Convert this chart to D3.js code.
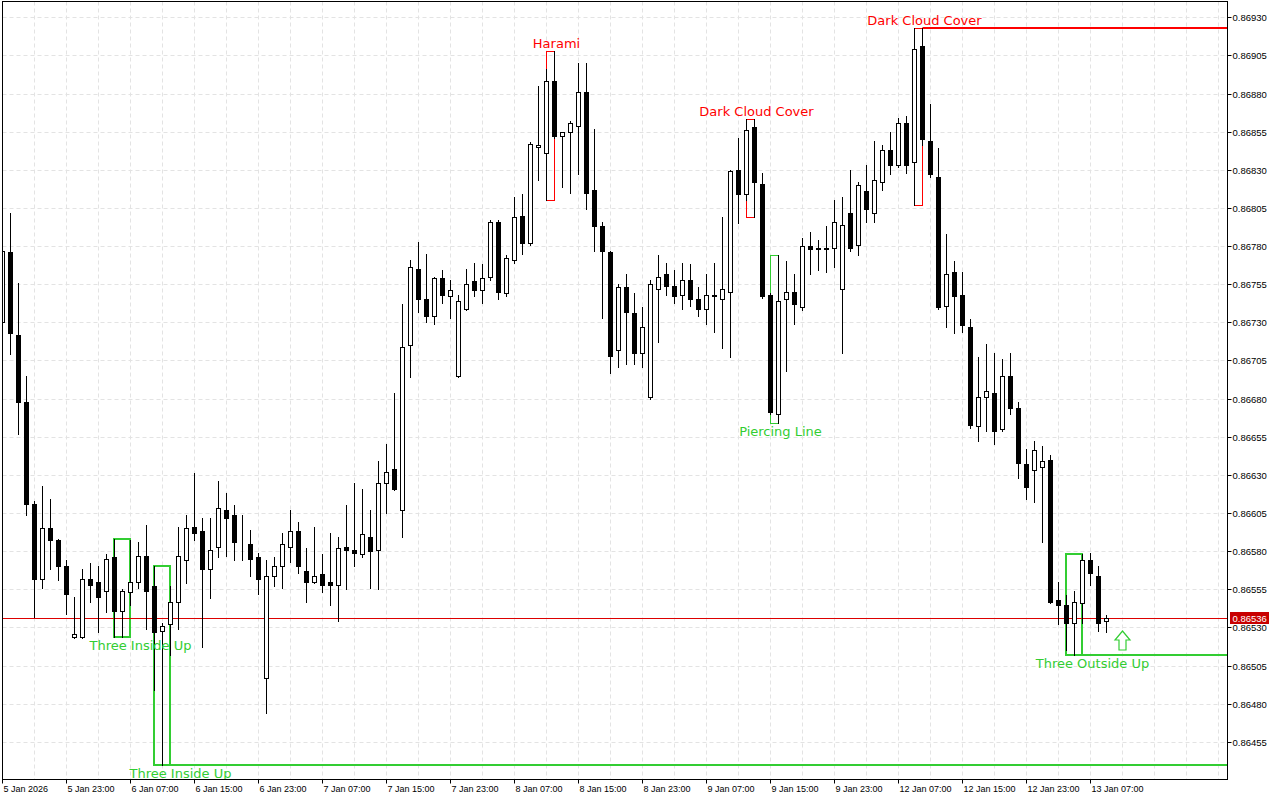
<!DOCTYPE html>
<meta charset="utf-8">
<body style="margin:0;background-color:white;">
<svg width="1280" height="800"></svg>
<script src="https://d3js.org/d3.v7.min.js"></script>
<script>

// H1 bars, first bar = 5 Jan 15:00, last = 13 Jan 09:00
var open = [0.86730,0.86776,0.86722,0.86678,0.86611,0.86562,0.86595,0.86587,0.86570,0.86524,
  0.86524,0.86562,0.86560,0.86554,0.86576,0.86541,0.86553,0.86560,0.86577,0.86557,
  0.86528,0.86532,0.86547,0.86574,0.86596,0.86593,0.86568,0.86583,0.86607,0.86604,
  0.86585,0.86585,0.86576,0.86497,0.86564,0.86570,0.86583,0.86593,0.86567,0.86560,
  0.86565,0.86560,0.86558,0.86583,0.86581,0.86578,0.86589,0.86581,0.86625,0.86634,
  0.86607,0.86715,0.86765,0.86745,0.86734,0.86759,0.86747,0.86695,0.86739,0.86757,
  0.86751,0.86760,0.86796,0.86749,0.86771,0.86800,0.86782,0.86845,0.86841,0.86888,
  0.86852,0.86855,0.86859,0.86881,0.86817,0.86793,0.86776,0.86712,0.86753,0.86736,
  0.86710,0.86681,0.86752,0.86762,0.86754,0.86748,0.86758,0.86745,0.86739,0.86748,
  0.86745,0.86750,0.86830,0.86814,0.86858,0.86821,0.86748,0.86670,0.86745,0.86750,
  0.86740,0.86780,0.86778,0.86779,0.86779,0.86752,0.86802,0.86781,0.86816,0.86802,
  0.86822,0.86843,0.86833,0.86861,0.86835,0.86911,0.86849,0.86825,0.86741,0.86763,
  0.86748,0.86727,0.86662,0.86681,0.86684,0.86660,0.86695,0.86674,0.86637,0.86633,
  0.86635,0.86640,0.86548,0.86545,0.86533,0.86546,0.86574,0.86564,0.86534];
var high = [0.86781,0.86802,0.86756,0.86695,0.86613,0.86623,0.86614,0.86588,0.86574,0.86550,
  0.86568,0.86572,0.86570,0.86578,0.86588,0.86555,0.86587,0.86586,0.86597,0.86570,
  0.86533,0.86557,0.86596,0.86604,0.86631,0.86602,0.86602,0.86626,0.86618,0.86610,
  0.86604,0.86594,0.86579,0.86574,0.86576,0.86592,0.86607,0.86599,0.86582,0.86596,
  0.86578,0.86592,0.86589,0.86610,0.86625,0.86621,0.86607,0.86639,0.86650,0.86684,
  0.86742,0.86771,0.86783,0.86775,0.86760,0.86764,0.86758,0.86748,0.86765,0.86769,
  0.86768,0.86797,0.86797,0.86774,0.86812,0.86814,0.86848,0.86885,0.86896,0.86908,
  0.86855,0.86862,0.86900,0.86900,0.86857,0.86796,0.86777,0.86755,0.86762,0.86749,
  0.86740,0.86758,0.86774,0.86769,0.86764,0.86769,0.86768,0.86753,0.86762,0.86769,
  0.86799,0.86830,0.86851,0.86863,0.86863,0.86828,0.86749,0.86774,0.86770,0.86762,
  0.86785,0.86789,0.86784,0.86793,0.86810,0.86812,0.86830,0.86822,0.86833,0.86849,
  0.86846,0.86855,0.86864,0.86865,0.86923,0.86923,0.86873,0.86844,0.86788,0.86770,
  0.86763,0.86732,0.86707,0.86716,0.86710,0.86706,0.86710,0.86678,0.86647,0.86652,
  0.86649,0.86643,0.86560,0.86551,0.86554,0.86578,0.86579,0.86570,0.86538];
var low = [0.86725,0.86709,0.86657,0.86604,0.86537,0.86556,0.86568,0.86561,0.86539,0.86523,
  0.86523,0.86547,0.86527,0.86540,0.86524,0.86524,0.86545,0.86556,0.86529,0.86489,
  0.86440,0.86512,0.86529,0.86559,0.86587,0.86517,0.86549,0.86576,0.86577,0.86574,
  0.86574,0.86564,0.86552,0.86474,0.86557,0.86556,0.86573,0.86566,0.86547,0.86559,
  0.86553,0.86545,0.86534,0.86555,0.86570,0.86576,0.86556,0.86555,0.86605,0.86620,
  0.86589,0.86694,0.86737,0.86730,0.86729,0.86743,0.86733,0.86694,0.86738,0.86747,
  0.86743,0.86758,0.86745,0.86747,0.86769,0.86775,0.86781,0.86823,0.86810,0.86851,
  0.86819,0.86815,0.86827,0.86804,0.86777,0.86733,0.86697,0.86701,0.86703,0.86703,
  0.86701,0.86680,0.86717,0.86748,0.86743,0.86739,0.86741,0.86734,0.86729,0.86724,
  0.86713,0.86707,0.86795,0.86810,0.86799,0.86746,0.86670,0.86664,0.86698,0.86729,
  0.86738,0.86762,0.86764,0.86763,0.86766,0.86710,0.86777,0.86774,0.86796,0.86796,
  0.86817,0.86827,0.86832,0.86828,0.86807,0.86846,0.86825,0.86739,0.86727,0.86723,
  0.86724,0.86661,0.86652,0.86659,0.86650,0.86659,0.86670,0.86628,0.86614,0.86612,
  0.86586,0.86546,0.86532,0.86515,0.86512,0.86533,0.86558,0.86528,0.86527];
var close = [0.86777,0.86723,0.86678,0.86611,0.86562,0.86595,0.86587,0.86570,0.86552,0.86526,
  0.86562,0.86558,0.86550,0.86575,0.86541,0.86554,0.86560,0.86577,0.86554,0.86527,
  0.86531,0.86547,0.86577,0.86595,0.86592,0.86568,0.86581,0.86608,0.86602,0.86586,
  0.86585,0.86575,0.86562,0.86564,0.86570,0.86585,0.86593,0.86570,0.86560,0.86564,
  0.86558,0.86558,0.86582,0.86581,0.86579,0.86591,0.86580,0.86625,0.86632,0.86621,
  0.86714,0.86766,0.86745,0.86734,0.86759,0.86748,0.86751,0.86744,0.86755,0.86751,
  0.86759,0.86796,0.86750,0.86772,0.86799,0.86782,0.86847,0.86846,0.86888,0.86852,
  0.86855,0.86861,0.86881,0.86815,0.86793,0.86777,0.86708,0.86753,0.86737,0.86710,
  0.86727,0.86755,0.86760,0.86754,0.86747,0.86758,0.86745,0.86739,0.86748,0.86747,
  0.86752,0.86829,0.86814,0.86856,0.86822,0.86747,0.86671,0.86744,0.86750,0.86742,
  0.86780,0.86778,0.86779,0.86778,0.86796,0.86794,0.86779,0.86820,0.86804,0.86823,
  0.86843,0.86833,0.86861,0.86833,0.86909,0.86850,0.86827,0.86740,0.86762,0.86747,
  0.86728,0.86663,0.86681,0.86685,0.86659,0.86695,0.86674,0.86638,0.86622,0.86646,
  0.86639,0.86547,0.86545,0.86533,0.86547,0.86574,0.86566,0.86533,0.86536];

var xLabelIdx = [0,8,16,24,32,40,48,56,64,72,80,88,96,104,112,120,128,136];
var xLabels = ['5 Jan 2026','5 Jan 23:00','6 Jan 07:00','6 Jan 15:00','6 Jan 23:00','7 Jan 07:00',
  '7 Jan 15:00','7 Jan 23:00','8 Jan 07:00','8 Jan 15:00','8 Jan 23:00','9 Jan 07:00',
  '9 Jan 15:00','9 Jan 23:00','12 Jan 07:00','12 Jan 15:00','12 Jan 23:00','13 Jan 07:00'];
var yTicks = [0.86455,0.86480,0.86505,0.86530,0.86555,0.86580,0.86605,0.86630,0.86655,0.86680,
  0.86705,0.86730,0.86755,0.86780,0.86805,0.86830,0.86855,0.86880,0.86905,0.86930];

// candlestick patterns found: first bar, last bar, name, bullish?
var patFrom = [14, 19, 68, 93, 96, 114, 133];
var patTo   = [16, 21, 69, 94, 97, 115, 135];
var patName = ['Three Inside Up','Three Inside Up','Harami','Dark Cloud Cover','Piercing Line','Dark Cloud Cover','Three Outside Up'];
var patBull = [true, true, false, false, true, false, true];

var bid = 0.86536;
var arrowIdx = 140, arrowPrice = 0.86528;

var candles = open.map(function(o, i) {
  return {i: i, o: o, h: high[i], l: low[i], c: close[i]};
});

var svg = d3.select('svg');
var L = 2.5, R = 1227.5, T = 1.5, B = 779.5;

var x = d3.scaleLinear().domain([0, 153]).range([2.5, 1226.5]);
var y = d3.scaleLinear().domain([0.86430, 0.86940]).range([780, 2]);

function py(v) { return Math.round(y(v)) + 0.5; }

svg.append('rect').attr('width', 1280).attr('height', 800).attr('fill', 'white');

svg.append('defs').append('clipPath').attr('id', 'plot')
   .append('rect').attr('x', L).attr('y', T).attr('width', R - L).attr('height', B - T);

var plot = svg.append('g').attr('clip-path', 'url(#plot)');

// grid
var grid = plot.append('g').attr('stroke', '#e3e3e3').attr('stroke-dasharray', '4,3').attr('stroke-width', 1);
grid.selectAll('.hg').data(yTicks).enter().append('line')
    .attr('x1', L).attr('x2', R)
    .attr('y1', function(d) { return py(d); }).attr('y2', function(d) { return py(d); });
grid.selectAll('.vg').data(d3.range(4, 154, 4)).enter().append('line')
    .attr('x1', function(d) { return x(d); }).attr('x2', function(d) { return x(d); })
    .attr('y1', T).attr('y2', B);

// pattern boxes (behind candles)
var pats = patFrom.map(function(f, j) {
  var t = patTo[j];
  var seg = candles.slice(f, t + 1);
  var top = d3.max(seg, function(d) { return d.h; });
  var bot = d3.min(seg, function(d) { return d.l; });
  var later = candles.slice(t + 1);
  var open_ = patBull[j] ? !later.some(function(d) { return d.l < bot; })
                         : !later.some(function(d) { return d.h > top; });
  return {from: f, to: t, name: patName[j], bull: patBull[j], top: top, bot: bot, extend: open_};
});

var boxes = plot.append('g').attr('fill', 'none');
pats.forEach(function(p) {
  var col = p.bull ? '#32cd32' : '#ff0000';
  var w = (p.to - p.from) > 1 ? 2 : 1;
  var off = w === 1 ? 0 : -0.5;
  boxes.append('rect')
       .attr('x', x(p.from) + off).attr('y', py(p.top) + off)
       .attr('width', x(p.to) - x(p.from)).attr('height', py(p.bot) - py(p.top))
       .attr('stroke', col).attr('stroke-width', w);
  if (p.extend) {
    var lv = p.bull ? py(p.bot) : py(p.top);
    boxes.append('line')
         .attr('x1', x(p.to)).attr('x2', R)
         .attr('y1', lv - 0.5).attr('y2', lv - 0.5)
         .attr('stroke', col).attr('stroke-width', 2);
  }
});

// bid line
plot.append('line').attr('x1', L).attr('x2', R)
    .attr('y1', py(bid)).attr('y2', py(bid))
    .attr('stroke', '#dd0000').attr('stroke-width', 1);

// candles
var cg = plot.append('g').attr('shape-rendering', 'crispEdges');
cg.selectAll('.wick').data(candles).enter().append('line')
  .attr('x1', function(d) { return x(d.i); }).attr('x2', function(d) { return x(d.i); })
  .attr('y1', function(d) { return py(d.h) - 0.5; }).attr('y2', function(d) { return py(d.l) + 0.5; })
  .attr('stroke', 'black').attr('stroke-width', 1);
cg.selectAll('.body').data(candles).enter().append('rect')
  .attr('x', function(d) { return x(d.i) - 2; })
  .attr('y', function(d) { return py(Math.max(d.o, d.c)); })
  .attr('width', 4)
  .attr('height', function(d) { return Math.max(0, py(Math.min(d.o, d.c)) - py(Math.max(d.o, d.c))); })
  .attr('fill', function(d) { return d.c >= d.o ? 'white' : 'black'; })
  .attr('stroke', 'black').attr('stroke-width', 1);

// pattern labels
var labels = plot.append('g').attr('font-family', 'DejaVu Sans').attr('font-size', '13px')
                 .attr('text-anchor', 'middle');
pats.forEach(function(p) {
  labels.append('text')
        .attr('x', x(p.to) + (p.to - p.from) * 8 - 6)
        .attr('y', p.bull ? y(p.bot) + 13 : y(p.top) - 3)
        .attr('fill', p.bull ? '#32cd32' : '#ff0000')
        .text(p.name);
});

// signal arrow
var ax = x(arrowIdx), ay = y(arrowPrice) + 0.5;
plot.append('path')
    .attr('d', 'M' + ax + ',' + ay + ' l7.5,9 h-4 v10 h-7 v-10 h-4 z')
    .attr('fill', 'white').attr('stroke', '#32cd32').attr('stroke-width', 1.2);

// frame
svg.append('rect').attr('x', L).attr('y', T).attr('width', R - L).attr('height', B - T)
   .attr('fill', 'none').attr('stroke', 'black').attr('stroke-width', 1);

// y axis
var ya = svg.append('g').attr('font-family', 'Liberation Sans').attr('font-size', '9.5px');
yTicks.forEach(function(v) {
  ya.append('line').attr('x1', R).attr('x2', R + 4).attr('y1', py(v)).attr('y2', py(v))
    .attr('stroke', 'black');
  ya.append('text').attr('x', R + 5).attr('y', py(v) + 3.5).attr('fill', 'black')
    .text(d3.format('.5f')(v));
});
ya.append('rect').attr('x', 1230).attr('y', py(bid) - 6.5).attr('width', 39).attr('height', 12)
  .attr('fill', '#c80000');
ya.append('text').attr('x', R + 5).attr('y', py(bid) + 3.5).attr('fill', 'white')
  .text(d3.format('.5f')(bid));

// x axis
var xa = svg.append('g').attr('font-family', 'Liberation Sans').attr('font-size', '9px');
xLabelIdx.forEach(function(k, j) {
  xa.append('line').attr('x1', x(k)).attr('x2', x(k)).attr('y1', B).attr('y2', B + 4)
    .attr('stroke', 'black');
  xa.append('text').attr('x', x(k) + 1).attr('y', 792).attr('fill', 'black').text(xLabels[j]);
});

</script>
</body>
